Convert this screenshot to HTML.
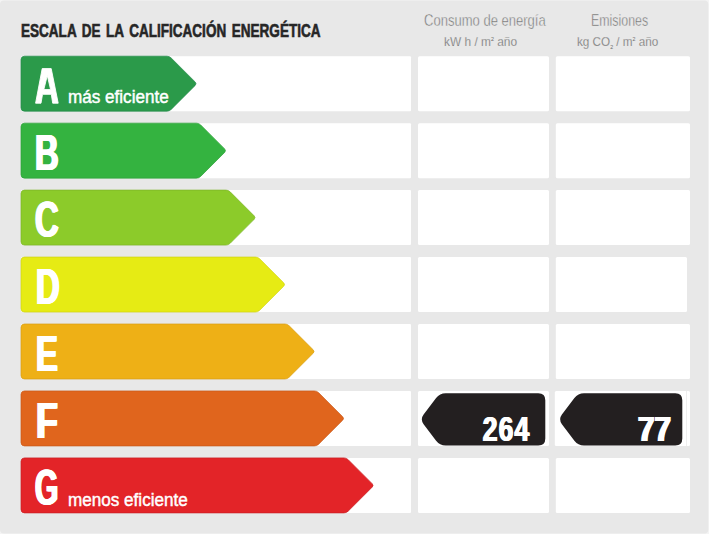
<!DOCTYPE html>
<html><head><meta charset="utf-8"><style>
html,body{margin:0;padding:0;}
body{width:709px;height:534px;background:#e8e8e8;position:relative;overflow:hidden;font-family:"Liberation Sans",sans-serif;}
svg{position:absolute;left:0;top:0;}
</style></head><body>
<svg width="709" height="534" viewBox="0 0 709 534">
<rect x="0" y="0" width="709" height="534" fill="#f4f4f4"/>
<rect x="0" y="0.6" width="708.3" height="533" rx="4" fill="#e8e8e8"/>
<rect x="21" y="56.20" width="390" height="55" rx="1" fill="#fff"/>
<rect x="418" y="56.20" width="131" height="55" rx="1.5" fill="#fff"/>
<rect x="555.8" y="56.20" width="134.2" height="55" rx="1.5" fill="#fff"/>
<path d="M21.00,59.70 Q21.00,56.20 24.50,56.20 L166.90,56.20 Q169.40,56.20 171.17,57.97 L195.13,81.93 Q196.90,83.70 195.13,85.47 L171.17,109.43 Q169.40,111.20 166.90,111.20 L24.50,111.20 Q21.00,111.20 21.00,107.70 Z" fill="#2b9a4a" stroke="#23894a" stroke-width="0.7"/>
<rect x="21" y="123.15" width="390" height="55" rx="1" fill="#fff"/>
<rect x="418" y="123.15" width="131" height="55" rx="1.5" fill="#fff"/>
<rect x="555.8" y="123.15" width="134.2" height="55" rx="1.5" fill="#fff"/>
<path d="M21.00,126.65 Q21.00,123.15 24.50,123.15 L196.40,123.15 Q198.90,123.15 200.67,124.92 L224.63,148.88 Q226.40,150.65 224.63,152.42 L200.67,176.38 Q198.90,178.15 196.40,178.15 L24.50,178.15 Q21.00,178.15 21.00,174.65 Z" fill="#34b340" stroke="#2ea03a" stroke-width="0.7"/>
<rect x="21" y="190.10" width="390" height="55" rx="1" fill="#fff"/>
<rect x="418" y="190.10" width="131" height="55" rx="1.5" fill="#fff"/>
<rect x="555.8" y="190.10" width="134.2" height="55" rx="1.5" fill="#fff"/>
<path d="M21.00,193.60 Q21.00,190.10 24.50,190.10 L225.90,190.10 Q228.40,190.10 230.17,191.87 L254.13,215.83 Q255.90,217.60 254.13,219.37 L230.17,243.33 Q228.40,245.10 225.90,245.10 L24.50,245.10 Q21.00,245.10 21.00,241.60 Z" fill="#8ccb2a" stroke="#7db526" stroke-width="0.7"/>
<rect x="21" y="257.05" width="390" height="55" rx="1" fill="#fff"/>
<rect x="418" y="257.05" width="131" height="55" rx="1.5" fill="#fff"/>
<rect x="555.8" y="257.05" width="131.2" height="55" rx="1.5" fill="#fff"/>
<path d="M21.00,260.55 Q21.00,257.05 24.50,257.05 L255.40,257.05 Q257.90,257.05 259.67,258.82 L283.63,282.78 Q285.40,284.55 283.63,286.32 L259.67,310.28 Q257.90,312.05 255.40,312.05 L24.50,312.05 Q21.00,312.05 21.00,308.55 Z" fill="#e6eb14" stroke="#cfd312" stroke-width="0.7"/>
<rect x="21" y="324.00" width="390" height="55" rx="1" fill="#fff"/>
<rect x="418" y="324.00" width="131" height="55" rx="1.5" fill="#fff"/>
<rect x="555.8" y="324.00" width="134.2" height="55" rx="1.5" fill="#fff"/>
<path d="M21.00,327.50 Q21.00,324.00 24.50,324.00 L284.90,324.00 Q287.40,324.00 289.17,325.77 L313.13,349.73 Q314.90,351.50 313.13,353.27 L289.17,377.23 Q287.40,379.00 284.90,379.00 L24.50,379.00 Q21.00,379.00 21.00,375.50 Z" fill="#eeb016" stroke="#d89e14" stroke-width="0.7"/>
<rect x="21" y="390.95" width="390" height="55" rx="1" fill="#fff"/>
<rect x="418" y="390.95" width="131" height="55" rx="1.5" fill="#fff"/>
<rect x="554.8" y="390.95" width="135.2" height="55" rx="1.5" fill="#fff"/>
<path d="M21.00,394.45 Q21.00,390.95 24.50,390.95 L314.40,390.95 Q316.90,390.95 318.67,392.72 L342.63,416.68 Q344.40,418.45 342.63,420.22 L318.67,444.18 Q316.90,445.95 314.40,445.95 L24.50,445.95 Q21.00,445.95 21.00,442.45 Z" fill="#e0651d" stroke="#c9591a" stroke-width="0.7"/>
<rect x="21" y="457.90" width="390" height="55" rx="1" fill="#fff"/>
<rect x="418" y="457.90" width="131" height="55" rx="1.5" fill="#fff"/>
<rect x="555.8" y="457.90" width="134.2" height="55" rx="1.5" fill="#fff"/>
<path d="M21.00,461.40 Q21.00,457.90 24.50,457.90 L343.90,457.90 Q346.40,457.90 348.17,459.67 L372.13,483.63 Q373.90,485.40 372.13,487.17 L348.17,511.13 Q346.40,512.90 343.90,512.90 L24.50,512.90 Q21.00,512.90 21.00,509.40 Z" fill="#e32428" stroke="#c91f24" stroke-width="0.7"/>
<rect x="686" y="391" width="0.9" height="55" fill="#ececec"/>
<path d="M35.6,103.2 L42.2,68.6 L51.2,68.6 L58.2,103.2 L52.7,103.2 L51.3,94.3 L42.5,94.3 L41,103.2 Z M43.8,89.6 L47.3,75.6 L50.6,89.6 Z" fill="#fff" fill-rule="evenodd" stroke="#fff" stroke-width="0.9" stroke-linejoin="round"/>
<path d="M423.61,424.14 Q420.00,419.35 423.61,414.56 L436.09,397.99 Q439.70,393.20 445.70,393.20 L538.30,393.20 Q545.30,393.20 545.30,400.20 L545.30,438.50 Q545.30,445.50 538.30,445.50 L445.70,445.50 Q439.70,445.50 436.09,440.71 Z" fill="#231f20"/>
<path d="M561.91,424.14 Q558.30,419.35 561.91,414.56 L574.39,397.99 Q578.00,393.20 584.00,393.20 L675.30,393.20 Q682.30,393.20 682.30,400.20 L682.30,438.50 Q682.30,445.50 675.30,445.50 L584.00,445.50 Q578.00,445.50 574.39,440.71 Z" fill="#231f20"/>
</svg>
<div style="position:absolute;left:21.4px;top:21.96px;font-size:18px;line-height:18px;font-weight:700;color:#262626;transform:scaleX(0.752);transform-origin:0 0;white-space:nowrap;word-spacing:2.4px;-webkit-text-stroke:0.6px #262626;">ESCALA DE LA CALIFICACIÓN ENERGÉTICA</div><div style="position:absolute;left:424.3px;top:12.02px;font-size:16.4px;line-height:16.4px;font-weight:400;color:#6e6e6e;transform:scaleX(0.795);transform-origin:0 0;white-space:nowrap;-webkit-text-stroke:0.45px #e8e8e8;">Consumo de energía</div><div style="position:absolute;left:444.4px;top:34.84px;font-size:13.3px;line-height:13.3px;font-weight:400;color:#6e6e6e;transform:scaleX(0.895);transform-origin:0 0;white-space:nowrap;-webkit-text-stroke:0.25px #e8e8e8;">kW h / m<span style='font-size:6px;position:relative;top:-5px;-webkit-text-stroke:0'>2</span> año</div><div style="position:absolute;left:591.2px;top:12.02px;font-size:16.4px;line-height:16.4px;font-weight:400;color:#6e6e6e;transform:scaleX(0.755);transform-origin:0 0;white-space:nowrap;-webkit-text-stroke:0.45px #e8e8e8;">Emisiones</div><div style="position:absolute;left:577.4px;top:35.04px;font-size:13.3px;line-height:13.3px;font-weight:400;color:#6e6e6e;transform:scaleX(0.88);transform-origin:0 0;white-space:nowrap;-webkit-text-stroke:0.25px #e8e8e8;">kg CO<span style='font-size:6px;position:relative;top:2.5px;-webkit-text-stroke:0'>2</span> / m<span style='font-size:6px;position:relative;top:-5px;-webkit-text-stroke:0'>2</span> año</div><div style="position:absolute;left:34.2px;top:127.99px;font-size:50.4px;line-height:50.4px;font-weight:700;color:#fff;transform:scaleX(0.655);transform-origin:0 0;white-space:nowrap;text-shadow:1px 0 #fff,2px 0 #fff,2.8px 0 #fff;">B</div><div style="position:absolute;left:34.0px;top:195.04px;font-size:50.4px;line-height:50.4px;font-weight:700;color:#fff;transform:scaleX(0.655);transform-origin:0 0;white-space:nowrap;text-shadow:1px 0 #fff,2px 0 #fff,2.8px 0 #fff;">C</div><div style="position:absolute;left:35.0px;top:261.79px;font-size:50.4px;line-height:50.4px;font-weight:700;color:#fff;transform:scaleX(0.655);transform-origin:0 0;white-space:nowrap;text-shadow:1px 0 #fff,2px 0 #fff,2.8px 0 #fff;">D</div><div style="position:absolute;left:35.0px;top:328.64px;font-size:50.4px;line-height:50.4px;font-weight:700;color:#fff;transform:scaleX(0.655);transform-origin:0 0;white-space:nowrap;text-shadow:1px 0 #fff,2px 0 #fff,2.8px 0 #fff;">E</div><div style="position:absolute;left:35.0px;top:396.29px;font-size:50.4px;line-height:50.4px;font-weight:700;color:#fff;transform:scaleX(0.71);transform-origin:0 0;white-space:nowrap;text-shadow:1px 0 #fff,2px 0 #fff,2.8px 0 #fff;">F</div><div style="position:absolute;left:33.8px;top:463.44px;font-size:50.4px;line-height:50.4px;font-weight:700;color:#fff;transform:scaleX(0.6);transform-origin:0 0;white-space:nowrap;text-shadow:1px 0 #fff,2px 0 #fff,2.8px 0 #fff;">G</div><div style="position:absolute;left:67.5px;top:88.36px;font-size:18px;line-height:18px;font-weight:400;color:#fff;transform:scaleX(0.95);transform-origin:0 0;white-space:nowrap;-webkit-text-stroke:0.45px #fff;">más eficiente</div><div style="position:absolute;left:67.5px;top:491.16px;font-size:18px;line-height:18px;font-weight:400;color:#fff;transform:scaleX(0.95);transform-origin:0 0;white-space:nowrap;-webkit-text-stroke:0.45px #fff;">menos eficiente</div><div style="position:absolute;left:482.0px;top:412.00px;font-size:34.5px;line-height:34.5px;font-weight:700;color:#fff;transform:scaleX(0.765);transform-origin:0 0;white-space:nowrap;letter-spacing:1.6px;text-shadow:1px 0 #fff,1.8px 0 #fff;">264</div><div style="position:absolute;left:637.2px;top:412.00px;font-size:34.5px;line-height:34.5px;font-weight:700;color:#fff;transform:scaleX(0.84);transform-origin:0 0;white-space:nowrap;letter-spacing:0.6px;text-shadow:1px 0 #fff,2px 0 #fff,2.6px 0 #fff;">77</div>
</body></html>
